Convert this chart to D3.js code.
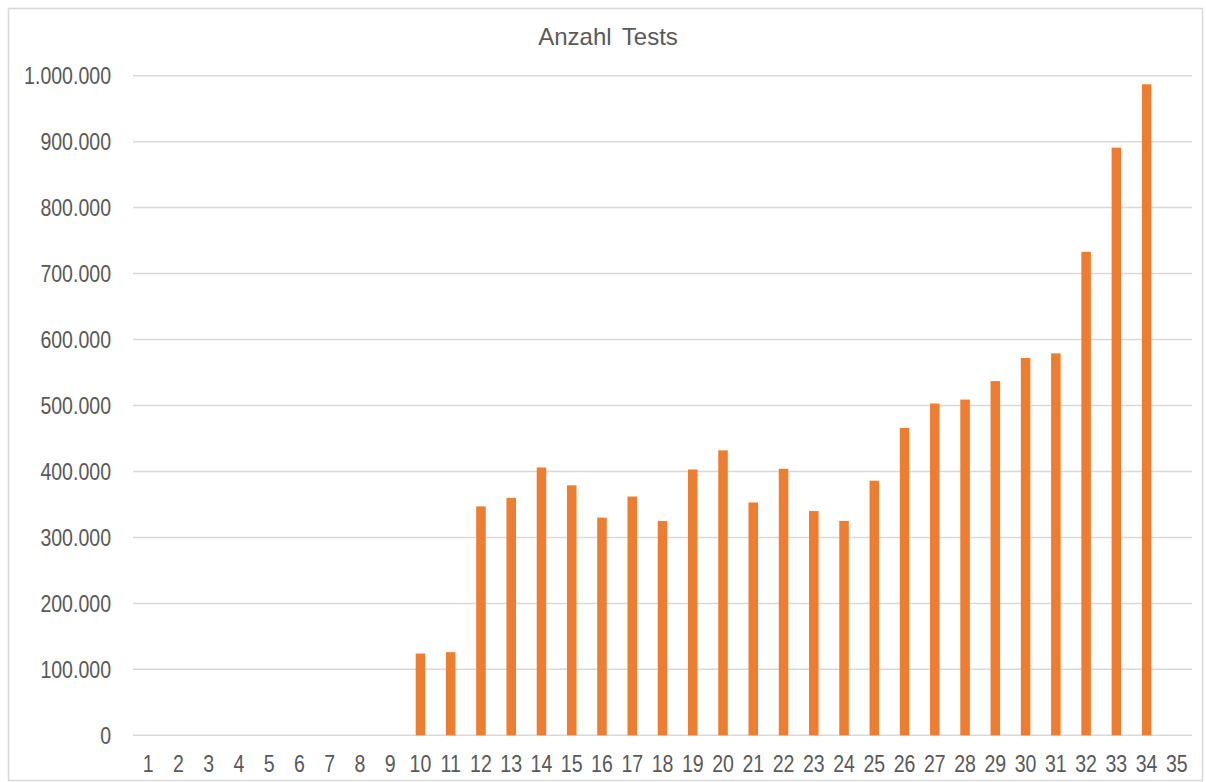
<!DOCTYPE html>
<html>
<head>
<meta charset="utf-8">
<script src="https://cdn.jsdelivr.net/npm/d3@7"></script>
<style>
  body { margin: 0; background: #fff; }
  svg text { font-family: "Liberation Sans", Arial, sans-serif; fill: #595959; }
</style>
</head>
<body>
<div id="chart"></div>
<script>
// weeks 1..35, number of tests per week
let weeks = d3.range(1, 36).map(String);
let tests = [0, 0, 0, 0, 0, 0, 0, 0, 0,
    124000, 126000, 347000, 360000, 406000, 379000, 330000, 362000, 325000,
    403000, 432000, 353000, 404000, 340000, 325000, 386000, 466000, 503000,
    509000, 537000, 572000, 579000, 733000, 891000, 987000, null];
let yTicks = [0, 100000, 200000, 300000, 400000, 500000, 600000, 700000, 800000, 900000, 1000000];
let title = "Anzahl Tests";

let data = weeks.map((w, i) => ({ week: w, value: tests[i] }));

var width = 1206;
var height = 782;
var margin = { top: 75.7, bottom: 46.7, left: 133, right: 14 };
var sx = 0.85; // tick labels are narrow

let svg = d3.select('#chart')
    .append('svg')
        .attr('width', width)
        .attr('height', height);

// chart frame
svg.append('rect')
    .attr('x', 8.5).attr('y', 8.5)
    .attr('width', 1194).attr('height', 772)
    .attr('fill', 'none')
    .attr('stroke', '#d9d9d9')
    .attr('stroke-width', 1.5);

let g = svg.append('g')
    .attr('transform', 'translate(' + margin.left + ',' + margin.top + ')');

let innerW = width - margin.left - margin.right;
let innerH = 659.6;

let xScale = d3.scaleBand()
    .domain(weeks)
    .range([0, innerW])
    .paddingInner(0.685)
    .paddingOuter(0.3425);

let yScale = d3.scaleLinear()
    .domain([0, 1000000])
    .range([innerH, 0]);

let fmt = v => d3.format(',')(v).replace(/,/g, '.');

// gridlines
g.append('g')
    .attr('class', 'grid')
    .selectAll('line')
    .data(yTicks)
    .enter().append('line')
        .attr('x1', 0).attr('x2', innerW)
        .attr('y1', d => yScale(d)).attr('y2', d => yScale(d))
        .attr('stroke', '#d9d9d9')
        .attr('stroke-width', 1.5);

// y axis
let yAxis = d3.axisLeft(yScale).tickValues(yTicks).tickSize(0).tickPadding(0).tickFormat(fmt);
let ya = g.append('g').attr('class', 'y axis').call(yAxis);
ya.select('.domain').remove();
ya.selectAll('text')
    .attr('x', -22 / sx)
    .attr('dy', '0.36em')
    .attr('transform', 'scale(' + sx + ',1)')
    .style('font-size', '23px')
    .style('fill', '#595959');

// x axis
let xAxis = d3.axisBottom(xScale).tickSize(0).tickPadding(0);
let xa = g.append('g')
    .attr('class', 'x axis')
    .attr('transform', 'translate(0,' + innerH + ')')
    .call(xAxis);
xa.select('.domain').remove();
xa.selectAll('text')
    .attr('y', 36.5)
    .attr('dy', 0)
    .attr('transform', 'scale(' + sx + ',1)')
    .style('font-size', '23px')
    .style('fill', '#595959');

// bars
g.selectAll('rect.bar')
    .data(data.filter(d => d.value))
    .enter().append('rect')
        .attr('class', 'bar')
        .attr('x', d => xScale(d.week))
        .attr('y', d => yScale(d.value))
        .attr('width', xScale.bandwidth())
        .attr('height', d => innerH - yScale(d.value))
        .attr('fill', '#ED7D31');

// title
svg.append('text')
    .attr('x', 608)
    .attr('y', 45)
    .attr('text-anchor', 'middle')
    .style('font-size', '24px')
    .style('word-spacing', '4px')
    .text(title);
</script>
</body>
</html>
